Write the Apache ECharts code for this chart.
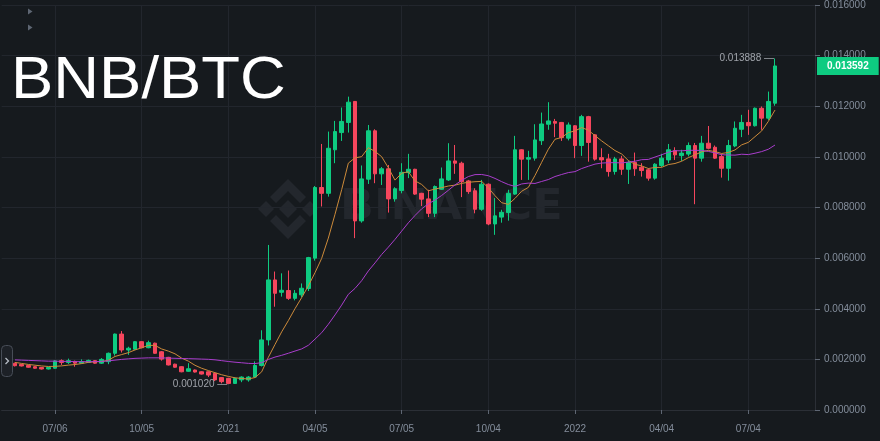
<!DOCTYPE html>
<html><head><meta charset="utf-8">
<script src="https://cdn.jsdelivr.net/npm/echarts@6/dist/echarts.min.js"></script>
<style>html,body{margin:0;padding:0;background:#161a1e;}#c{width:880px;height:441px;}</style>
</head><body><div id="c"></div>
<script>
// weekly categories (Monday of each week)
const startWeekUTC = Date.UTC(2020, 4, 11);
const weekCount = 123;
const firstCandleOffset = 2;           // first candle is the week of 2020-05-25
const tickDates  = ['2020-07-06','2020-10-05','2021-01-04','2021-04-05','2021-07-05','2021-10-04','2022-01-03','2022-04-04','2022-07-04'];
const tickLabels = ['07/06','10/05','2021','04/05','07/05','10/04','2022','04/04','07/04'];

const opens = [
1.845e-3,1.80e-3,1.76e-3,1.71e-3,1.68e-3,1.62e-3,1.65e-3,1.95e-3,1.88e-3,1.92e-3,
1.85e-3,1.88e-3,1.95e-3,1.85e-3,1.91e-3,2.24e-3,3.00e-3,2.37e-3,2.40e-3,2.70e-3,
2.46e-3,2.64e-3,2.30e-3,2.08e-3,1.81e-3,1.71e-3,1.53e-3,1.58e-3,1.51e-3,1.51e-3,
1.45e-3,1.28e-3,1.25e-3,1.05e-3,1.19e-3,1.19e-3,1.30e-3,1.76e-3,2.77e-3,5.14e-3,
4.65e-3,4.72e-3,4.41e-3,4.55e-3,4.80e-3,6.00e-3,8.79e-3,8.56e-3,10.28e-3,10.96e-3,
11.36e-3,12.19e-3,7.47e-3,9.12e-3,11.03e-3,9.33e-3,9.53e-3,8.34e-3,8.67e-3,9.38e-3,
9.51e-3,8.56e-3,8.34e-3,7.77e-3,8.72e-3,9.09e-3,9.84e-3,9.75e-3,9.05e-3,8.66e-3,
7.93e-3,8.92e-3,7.35e-3,7.62e-3,7.80e-3,8.53e-3,10.28e-3,9.91e-3,9.95e-3,10.64e-3,
11.29e-3,11.40e-3,11.36e-3,10.74e-3,11.23e-3,10.45e-3,11.59e-3,10.87e-3,9.97e-3,9.92e-3,
9.42e-3,9.92e-3,9.51e-3,9.78e-3,9.59e-3,9.49e-3,9.16e-3,9.66e-3,9.88e-3,10.25e-3,
10.05e-3,10.11e-3,10.45e-3,9.95e-3,10.54e-3,10.38e-3,10.01e-3,9.55e-3,10.43e-3,11.09e-3,
11.36e-3,11.23e-3,11.92e-3,11.53e-3,12.12e-3];

const closes = [
1.75e-3,1.74e-3,1.69e-3,1.65e-3,1.62e-3,1.68e-3,1.94e-3,1.88e-3,1.95e-3,1.85e-3,
1.91e-3,1.96e-3,1.85e-3,2.00e-3,2.24e-3,3.00e-3,2.37e-3,2.44e-3,2.70e-3,2.46e-3,
2.66e-3,2.24e-3,2.01e-3,1.78e-3,1.69e-3,1.51e-3,1.63e-3,1.50e-3,1.42e-3,1.38e-3,
1.19e-3,1.12e-3,1.05e-3,1.25e-3,1.30e-3,1.30e-3,1.76e-3,2.77e-3,5.14e-3,4.61e-3,
4.73e-3,4.41e-3,4.61e-3,4.81e-3,6.02e-3,8.79e-3,8.56e-3,10.34e-3,11.00e-3,11.40e-3,
12.16e-3,7.47e-3,9.13e-3,11.03e-3,9.33e-3,9.53e-3,8.34e-3,8.74e-3,9.39e-3,9.51e-3,
8.53e-3,8.33e-3,7.77e-3,8.83e-3,9.13e-3,9.84e-3,9.75e-3,9.02e-3,8.63e-3,7.93e-3,
8.92e-3,7.35e-3,7.67e-3,7.81e-3,8.56e-3,10.28e-3,9.91e-3,9.97e-3,10.67e-3,11.30e-3,
11.42e-3,11.33e-3,10.76e-3,11.26e-3,10.45e-3,11.59e-3,10.57e-3,9.91e-3,9.88e-3,9.42e-3,
9.92e-3,9.51e-3,9.78e-3,9.53e-3,9.46e-3,9.16e-3,9.71e-3,9.95e-3,10.28e-3,10.08e-3,
10.15e-3,10.45e-3,9.95e-3,10.54e-3,10.34e-3,9.95e-3,9.55e-3,10.45e-3,11.13e-3,11.36e-3,
11.23e-3,11.92e-3,11.53e-3,12.19e-3,13.592e-3];

const lows = [
1.72e-3,1.72e-3,1.67e-3,1.63e-3,1.60e-3,1.60e-3,1.63e-3,1.78e-3,1.82e-3,1.71e-3,
1.83e-3,1.86e-3,1.83e-3,1.82e-3,1.81e-3,2.15e-3,2.27e-3,2.18e-3,2.38e-3,2.44e-3,
2.44e-3,2.22e-3,1.95e-3,1.76e-3,1.67e-3,1.49e-3,1.51e-3,1.48e-3,1.40e-3,1.30e-3,
1.14e-3,1.05e-3,1.02e-3,1.03e-3,1.10e-3,1.12e-3,1.28e-3,1.72e-3,2.55e-3,4.08e-3,
4.48e-3,4.35e-3,4.33e-3,4.45e-3,4.70e-3,5.90e-3,8.04e-3,8.43e-3,9.75e-3,10.63e-3,
10.96e-3,6.79e-3,7.40e-3,8.93e-3,8.96e-3,8.89e-3,7.80e-3,8.23e-3,8.56e-3,9.16e-3,
8.50e-3,8.06e-3,7.62e-3,7.62e-3,8.70e-3,9.05e-3,9.33e-3,8.41e-3,8.54e-3,7.77e-3,
7.87e-3,7.30e-3,6.92e-3,7.40e-3,7.48e-3,8.50e-3,9.09e-3,9.09e-3,9.85e-3,10.47e-3,
11.07e-3,10.78e-3,10.63e-3,10.65e-3,9.95e-3,10.04e-3,9.81e-3,9.85e-3,9.55e-3,9.22e-3,
9.30e-3,9.29e-3,8.93e-3,9.25e-3,9.22e-3,9.06e-3,9.10e-3,9.60e-3,9.75e-3,9.88e-3,
9.84e-3,10.02e-3,8.13e-3,9.81e-3,10.30e-3,9.92e-3,9.18e-3,9.06e-3,10.38e-3,10.78e-3,
10.87e-3,11.20e-3,11.07e-3,11.46e-3,12.02e-3];

const highs = [
1.87e-3,1.82e-3,1.78e-3,1.73e-3,1.70e-3,1.70e-3,1.97e-3,2.00e-3,2.03e-3,1.95e-3,
2.00e-3,1.99e-3,1.97e-3,2.05e-3,2.27e-3,3.02e-3,3.12e-3,2.50e-3,2.72e-3,2.72e-3,
2.74e-3,2.66e-3,2.33e-3,2.10e-3,1.83e-3,1.73e-3,1.85e-3,1.60e-3,1.53e-3,1.53e-3,
1.47e-3,1.30e-3,1.27e-3,1.28e-3,1.33e-3,1.34e-3,1.92e-3,3.15e-3,6.52e-3,5.47e-3,
5.40e-3,5.51e-3,4.74e-3,5.00e-3,6.05e-3,8.85e-3,10.51e-3,11.00e-3,11.42e-3,11.95e-3,
12.38e-3,12.20e-3,9.66e-3,11.26e-3,11.09e-3,9.60e-3,9.68e-3,8.80e-3,9.75e-3,10.12e-3,
9.53e-3,8.58e-3,8.70e-3,8.87e-3,9.58e-3,10.54e-3,10.47e-3,9.81e-3,9.09e-3,8.76e-3,
9.09e-3,8.95e-3,8.37e-3,7.91e-3,8.70e-3,10.83e-3,10.30e-3,10.24e-3,11.29e-3,11.75e-3,
12.16e-3,11.50e-3,11.38e-3,11.36e-3,11.25e-3,11.66e-3,11.62e-3,10.90e-3,10.34e-3,10.12e-3,
10.00e-3,10.04e-3,9.85e-3,10.17e-3,9.75e-3,9.55e-3,9.75e-3,10.12e-3,10.51e-3,10.38e-3,
10.28e-3,10.57e-3,10.55e-3,10.83e-3,11.22e-3,10.45e-3,10.12e-3,10.67e-3,11.40e-3,11.66e-3,
11.86e-3,11.95e-3,11.99e-3,12.58e-3,13.888e-3];

const ma7Head  = [1.88e-3,1.84e-3,1.80e-3,1.77e-3,1.74e-3,1.72e-3];
const ma25Head = [1.98e-3,1.97e-3,1.96e-3,1.95e-3,1.94e-3,1.93e-3,1.93e-3,1.92e-3,1.92e-3,1.91e-3,
                  1.91e-3,1.91e-3,1.91e-3,1.92e-3,1.94e-3,1.97e-3,2.00e-3,2.02e-3,2.04e-3,2.05e-3,
                  2.06e-3,2.06e-3,2.06e-3,2.05e-3];

const categories = [];
for (let i = 0; i < weekCount; i++) {
  categories.push(new Date(startWeekUTC + i * 7 * 864e5).toISOString().slice(0, 10));
}
const catOf = k => categories[k + firstCandleOffset];

function movingAvg(n, head) {
  return closes.map((c, k) => {
    if (k < n - 1) return head[k];
    let s = 0; for (let j = k - n + 1; j <= k; j++) s += closes[j];
    return s / n;
  });
}
const ma7 = movingAvg(7, ma7Head);
const ma25 = movingAvg(25, ma25Head);

const candleData = opens.map((o, k) => [catOf(k), o, closes[k], lows[k], highs[k]]);
let iMax = 0, iMin = 0;
highs.forEach((h, k) => { if (h > highs[iMax]) iMax = k; });
lows.forEach((l, k) => { if (l < lows[iMin]) iMin = k; });
const lastClose = closes[closes.length - 1];

const tickSet = new Set(tickDates);
const tickFn = (i, v) => tickSet.has(v);
const FONT = '"Liberation Sans", Arial, sans-serif';
const WM = '#23272d';

const chart = echarts.init(document.getElementById('c'));
chart.setOption({
  backgroundColor: '#161a1e',
  animation: false,
  grid: { left: 1.67, right: 65, top: 5, bottom: 31 },
  xAxis: {
    type: 'category', data: categories, boundaryGap: false, offset: 8,
    axisLine: { show: true, lineStyle: { color: '#2b2f36' } },
    axisTick: { show: true, length: 4, interval: tickFn, lineStyle: { color: '#5e6673' } },
    axisLabel: { interval: tickFn, formatter: v => tickLabels[tickDates.indexOf(v)], color: '#848e9c', fontSize: 10, margin: 6, fontFamily: FONT },
    splitLine: { show: true, interval: tickFn, lineStyle: { color: '#22262d' } }
  },
  yAxis: {
    type: 'value', position: 'right', min: 0, max: 0.016, interval: 0.002,
    axisLine: { show: true, lineStyle: { color: '#2b2f36' } },
    axisTick: { show: true, length: 5, lineStyle: { color: '#5e6673' } },
    axisLabel: { color: '#848e9c', fontSize: 10, margin: 9, fontFamily: FONT, formatter: v => v.toFixed(6) },
    splitLine: { show: true, lineStyle: { color: '#22262d' } }
  },
  graphic: [
    { type: 'text', x: 11, y: 81.5, scaleX: 1.057, z: 10, style: { text: 'BNB/BTC', fill: '#ffffff', font: '60px ' + FONT, verticalAlign: 'middle', textVerticalAlign: 'middle' } },
    { type: 'polygon', z: 10, shape: { points: [[28, 8.5], [32.5, 11.5], [28, 14.5]] }, style: { fill: '#5e6673' } },
    { type: 'polygon', z: 10, shape: { points: [[28, 24.5], [32.5, 27.5], [28, 30.5]] }, style: { fill: '#5e6673' } },
    { type: 'text', x: 340, y: 208, scaleX: 1.06, z: 0, style: { text: 'BINANCE', fill: WM, font: 'bold 42px "DejaVu Sans", sans-serif', verticalAlign: 'middle', textVerticalAlign: 'middle' } },
    { type: 'polygon', z: 0, shape: { points: [[288, 200], [297, 209], [288, 218], [279, 209]] }, style: { fill: WM } },
    { type: 'polygon', z: 0, shape: { points: [[258, 209], [266, 201], [274, 209], [266, 217]] }, style: { fill: WM } },
    { type: 'polygon', z: 0, shape: { points: [[302, 209], [310, 201], [318, 209], [310, 217]] }, style: { fill: WM } },
    { type: 'polygon', z: 0, shape: { points: [[288, 179], [306, 197], [300, 203], [288, 191], [276, 203], [270, 197]] }, style: { fill: WM } },
    { type: 'polygon', z: 0, shape: { points: [[288, 239], [306, 221], [300, 215], [288, 227], [276, 215], [270, 221]] }, style: { fill: WM } },
    { type: 'rect', z: 100, shape: { x: 1.5, y: 345.5, width: 11, height: 31, r: 4 }, style: { fill: 'rgba(30,34,40,0.92)', stroke: '#474d57', lineWidth: 1 } },
    { type: 'polyline', z: 101, shape: { points: [[5.5, 358], [8.5, 361], [5.5, 364]] }, style: { stroke: '#b7bdc6', lineWidth: 1.3, fill: null } }
  ],
  series: [
    {
      type: 'candlestick', data: candleData, encode: { x: 0, y: [1, 2, 3, 4] }, barWidth: 4, z: 3,
      itemStyle: { color: '#0ecb81', color0: '#f6465d', borderColor: '#0ecb81', borderColor0: '#f6465d', borderWidth: 1 }
    },
    { type: 'line', data: ma7.map((v, k) => [catOf(k), v]), showSymbol: false, symbol: 'none', z: 4, lineStyle: { color: '#cc8a3a', width: 1 } },
    { type: 'line', data: ma25.map((v, k) => [catOf(k), v]), showSymbol: false, symbol: 'none', z: 4, lineStyle: { color: '#a93dcc', width: 1 } },
    {
      type: 'scatter', symbolSize: 0, silent: true, z: 5,
      data: [[catOf(iMax), highs[iMax]], [catOf(iMin), lows[iMin]]],
      label: { show: true, position: 'left', distance: 1, color: '#c0c4cc', fontSize: 10, fontFamily: FONT, formatter: p => p.value[1].toFixed(6) + ' —' },
      markLine: {
        silent: true, symbol: 'none', animation: false, precision: 6,
        data: [{ yAxis: lastClose }],
        lineStyle: { color: 'rgba(0,0,0,0)', width: 1 },
        label: { show: true, position: 'end', distance: 2, formatter: () => lastClose.toFixed(6), backgroundColor: '#0ecb81', color: '#ffffff', fontSize: 10, fontWeight: 'bold', fontFamily: FONT, padding: [4, 10], lineHeight: 10 }
      }
    }
  ]
});
</script></body></html>
